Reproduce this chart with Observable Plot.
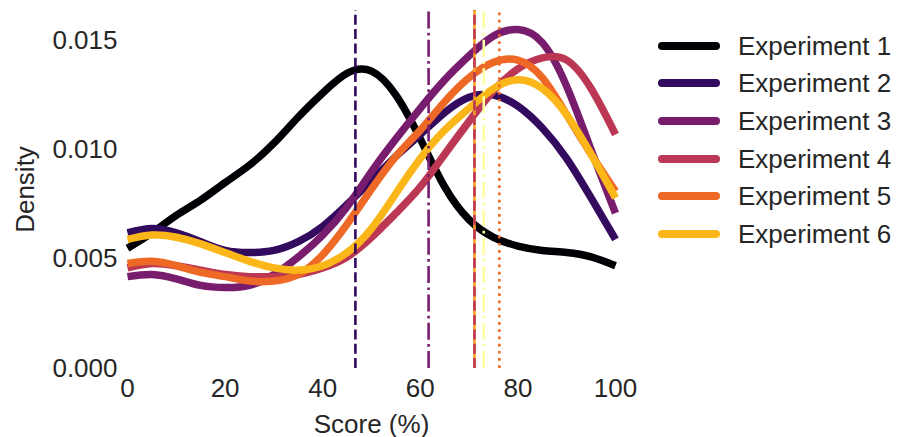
<!DOCTYPE html>
<html>
<head>
<meta charset="utf-8">
<script src="https://cdn.jsdelivr.net/npm/d3@7"></script>
<script src="https://cdn.jsdelivr.net/npm/@observablehq/plot@0.6"></script>
<style>
  body { margin: 0; background: #fff; }
  #wrap { position: relative; width: 901px; height: 437px; font-family: "Liberation Sans", Arial, sans-serif; color: #262626; }
  #legend { position: absolute; left: 658px; top: 27px; }
  .row { display: flex; align-items: center; height: 37.6px; }
  .sw { width: 62px; height: 8px; border-radius: 4px; margin-right: 18px; }
  .lb { font-size: 26px; line-height: 1; }
</style>
</head>
<body>
<div id="wrap"><div id="legend"></div></div>
<script>
const scores = [0,5,10,15,20,25,30,35,40,45,50,55,60,65,70,75,80,85,90,95,100];
const seriesNames = ["Experiment 1","Experiment 2","Experiment 3","Experiment 4","Experiment 5","Experiment 6"];
const seriesColors = ["#000004","#320a5e","#781c6d","#bc3754","#ed6925","#fbb61a"];
const exp1 = [0.0055,0.0062,0.0070,0.0077,0.0085,0.0093,0.0103,0.0115,0.0126,0.0135,0.0136,0.0125,0.0105,0.0083,0.0068,0.0060,0.0056,0.0054,0.0053,0.0051,0.0047];
const exp2 = [0.0062,0.0064,0.0062,0.0058,0.0054,0.0053,0.0054,0.0058,0.0065,0.0075,0.0086,0.0097,0.0107,0.0117,0.0124,0.0125,0.0120,0.0110,0.0096,0.0078,0.0059];
const exp3 = [0.0042,0.0043,0.0041,0.0038,0.0037,0.0038,0.0043,0.0051,0.0061,0.0074,0.0090,0.0105,0.0119,0.0132,0.0143,0.0152,0.0155,0.0149,0.0129,0.0100,0.0071];
const exp4 = [0.0046,0.0048,0.0047,0.0045,0.0043,0.0042,0.0042,0.0043,0.0046,0.0051,0.0060,0.0071,0.0083,0.0098,0.0113,0.0127,0.0137,0.0142,0.0141,0.0128,0.0107];
const exp5 = [0.0048,0.0049,0.0047,0.0044,0.0042,0.0040,0.0040,0.0043,0.0052,0.0066,0.0082,0.0097,0.0109,0.0122,0.0133,0.0140,0.0141,0.0133,0.0116,0.0098,0.0081];
const exp6 = [0.0059,0.0061,0.0060,0.0057,0.0053,0.0049,0.0046,0.0045,0.0047,0.0053,0.0064,0.0080,0.0096,0.0109,0.0119,0.0128,0.0132,0.0128,0.0116,0.0098,0.0078];
const seriesValues = [exp1, exp2, exp3, exp4, exp5, exp6];

const refX = [46.7, 61.7, 71.1, 71.1, 73.0, 76.2];
const refColors = ["#320a5e","#781c6d","#f7a21d","#bc3754","#fcffa4","#ed6925"];
const refDash = ["10,4.3","17,4.3,2.7,4.3","none","10,4.3","17,4.3,2.7,4.3","2.7,4.5"];
const yTicks = [0, 0.005, 0.010, 0.015];
const xTicks = [0, 20, 40, 60, 80, 100];

const rows = [];
seriesValues.forEach((vals, i) => vals.forEach((v, j) => rows.push({series: seriesNames[i], x: scores[j], y: v})));
const refs = refX.map((x, i) => ({x, color: refColors[i], dash: refDash[i]}));

const yMax = 0.01637;
const plot = Plot.plot({
  width: 901, height: 437,
  marginLeft: 127, marginRight: 286, marginTop: 10, marginBottom: 69,
  style: "font-family: 'Liberation Sans', Arial, sans-serif; font-size: 26px; color: #262626; background: #fff; overflow: visible;",
  x: {domain: [0, 100], ticks: xTicks, tickSize: 0, tickPadding: 10, label: "Score (%)", labelArrow: "none", labelAnchor: "center", labelOffset: 64},
  y: {domain: [0, yMax], ticks: yTicks, tickFormat: d3.format(".3f"), tickSize: 0, tickPadding: 10, label: "Density", labelArrow: "none", labelAnchor: "center", labelOffset: 112},
  color: {domain: seriesNames, range: seriesColors},
  marks: [
    Plot.line(rows, {x: "x", y: "y", z: "series", stroke: "series", strokeWidth: 7.5, curve: "natural", strokeLinecap: "butt"}),
    ...refs.map(r => Plot.ruleX([r.x], {y1: 0, y2: yMax, stroke: r.color, strokeWidth: 2.6, strokeDasharray: r.dash}))
  ]
});
document.getElementById("wrap").prepend(plot);

const legend = document.getElementById("legend");
seriesNames.forEach((n, i) => {
  const row = document.createElement("div"); row.className = "row";
  const sw = document.createElement("div"); sw.className = "sw"; sw.style.background = seriesColors[i];
  const lb = document.createElement("span"); lb.className = "lb"; lb.textContent = n;
  row.append(sw, lb); legend.append(row);
});
</script>
</body>
</html>
